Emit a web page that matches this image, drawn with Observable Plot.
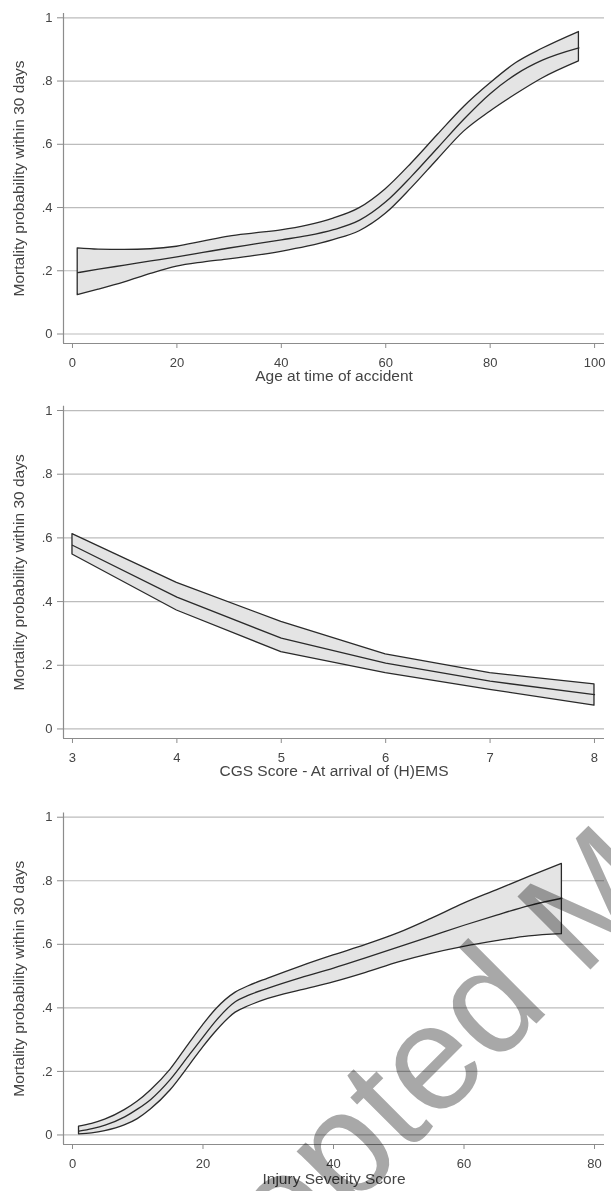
<!DOCTYPE html>
<html><head><meta charset="utf-8">
<script src="https://cdn.jsdelivr.net/npm/d3@7"></script>
<script src="https://cdn.jsdelivr.net/npm/@observablehq/plot@0.6"></script>
<style>
html,body{margin:0;padding:0;background:#fff}
body{width:611px;height:1191px;position:relative;overflow:hidden;font-family:"Liberation Sans",Arial,sans-serif}
svg{display:block}
#wm{position:absolute;left:0;top:0;pointer-events:none;mix-blend-mode:multiply}
</style></head><body>
<div id="charts"></div>
<svg id="wm" width="611" height="1191"><text x="110" y="1450" transform="rotate(-45 110 1450)" font-family="Liberation Sans, Arial, sans-serif" font-size="150" fill="#a8a8a8">Accepted Manuscript</text></svg>
<script>
// Panel 1: Age at time of accident
const ageX     = [1, 5, 10, 15, 20, 25, 30, 35, 40, 45, 50, 55, 60, 65, 70, 75, 80, 85, 90, 97];
const ageMean  = [0.194, 0.205, 0.218, 0.231, 0.244, 0.258, 0.272, 0.285, 0.298, 0.311, 0.330, 0.360, 0.418, 0.500, 0.590, 0.680, 0.760, 0.822, 0.866, 0.905];
const ageUpper = [0.271, 0.267, 0.266, 0.268, 0.276, 0.292, 0.308, 0.318, 0.328, 0.343, 0.365, 0.398, 0.458, 0.540, 0.630, 0.718, 0.792, 0.857, 0.902, 0.955];
const ageLower = [0.123, 0.140, 0.163, 0.190, 0.213, 0.226, 0.236, 0.247, 0.260, 0.276, 0.297, 0.325, 0.380, 0.462, 0.552, 0.640, 0.703, 0.758, 0.808, 0.862];
const ageTicks = [0, 20, 40, 60, 80, 100];

// Panel 2: GCS score at arrival of (H)EMS
const gcsX     = [3, 4, 5, 6, 7, 8];
const gcsMean  = [0.577, 0.414, 0.285, 0.207, 0.150, 0.108];
const gcsUpper = [0.612, 0.459, 0.336, 0.234, 0.175, 0.140];
const gcsLower = [0.548, 0.372, 0.241, 0.175, 0.123, 0.073];
const gcsTicks = [3, 4, 5, 6, 7, 8];

// Panel 3: Injury Severity Score
const issX     = [1, 3, 5, 8, 10, 12, 15, 18, 20, 22, 25, 27, 30, 35, 40, 45, 50, 55, 60, 65, 70, 75];
const issMean  = [0.012, 0.020, 0.031, 0.057, 0.082, 0.112, 0.175, 0.255, 0.308, 0.360, 0.420, 0.440, 0.462, 0.495, 0.525, 0.558, 0.592, 0.626, 0.660, 0.692, 0.722, 0.745];
const issUpper = [0.026, 0.035, 0.048, 0.078, 0.105, 0.140, 0.205, 0.290, 0.345, 0.395, 0.448, 0.468, 0.492, 0.530, 0.565, 0.598, 0.635, 0.680, 0.728, 0.770, 0.812, 0.853];
const issLower = [0.002, 0.005, 0.012, 0.030, 0.050, 0.080, 0.140, 0.220, 0.275, 0.325, 0.385, 0.405, 0.428, 0.455, 0.480, 0.510, 0.543, 0.570, 0.592, 0.610, 0.625, 0.632];
const issTicks = [0, 20, 40, 60, 80];

const yTicks = [0, 0.2, 0.4, 0.6, 0.8, 1];
const yLabel = "Mortality probability within 30 days";
const yDomain = [-0.03, 1.0136];

const fmtY = d => d === 0 ? "0" : d === 1 ? "1" : String(d).replace(/^0\./, ".");

function rows(xs, m, u, l) {
  return xs.map((x, i) => ({x, m: m[i], u: u[i], l: l[i]}));
}

function panel({data, xDomain, xTicks, xLabel, height, marginTop, marginBottom, curve, labelDy}) {
  return Plot.plot({
    width: 611, height, marginLeft: 63, marginRight: 7, marginTop, marginBottom,
    style: {fontFamily: "Liberation Sans, Arial, sans-serif", fontSize: "13px", color: "#444", background: "white"},
    x: {domain: xDomain},
    y: {domain: yDomain},
    marks: [
      Plot.gridY(yTicks, {stroke: "#bcbcbc", strokeOpacity: 1, strokeWidth: 1.2}),
      Plot.ruleX([xDomain[0]], {stroke: "#8c8c8c", strokeWidth: 1.2}),
      Plot.ruleY([yDomain[0]], {stroke: "#8c8c8c", strokeWidth: 1.2}),
      Plot.areaY(data, {x: "x", y1: "l", y2: "u", fill: "#e4e4e4", stroke: "#2a2a2a", strokeWidth: 1.3, curve}),
      Plot.lineY(data, {x: "x", y: "m", stroke: "#2a2a2a", strokeWidth: 1.3, curve}),
      Plot.axisX(xTicks, {tickSize: 5, tickPadding: 9, stroke: "#8c8c8c", fill: "#444", label: null}),
      Plot.axisY(yTicks, {tickSize: 6, tickPadding: 5, stroke: "#8c8c8c", fill: "#444", tickFormat: fmtY, label: null}),
      Plot.text([xLabel], {frameAnchor: "bottom", dy: labelDy, lineAnchor: "middle", textAnchor: "middle", fontSize: 15.5, fill: "#444", text: d => d}),
      Plot.text([yLabel], {frameAnchor: "left", dx: -44, rotate: -90, textAnchor: "middle", lineAnchor: "middle", fontSize: 15.5, fill: "#444", text: d => d})
    ]
  });
}

const charts = document.getElementById("charts");
charts.append(panel({
  data: rows(ageX, ageMean, ageUpper, ageLower),
  xDomain: [-1.72, 101.9], xTicks: ageTicks, xLabel: "Age at time of accident",
  height: 395, marginTop: 13, marginBottom: 52, curve: "monotone-x", labelDy: 33
}));
charts.append(panel({
  data: rows(gcsX, gcsMean, gcsUpper, gcsLower),
  xDomain: [2.914, 8.096], xTicks: gcsTicks, xLabel: "CGS Score - At arrival of (H)EMS",
  height: 400, marginTop: 10.7, marginBottom: 57, curve: "linear", labelDy: 33
}));
charts.append(panel({
  data: rows(issX, issMean, issUpper, issLower),
  xDomain: [-1.377, 81.53], xTicks: issTicks, xLabel: "Injury Severity Score",
  height: 396, marginTop: 17.4, marginBottom: 47, curve: "monotone-x", labelDy: 35
}));
</script>
</body></html>
